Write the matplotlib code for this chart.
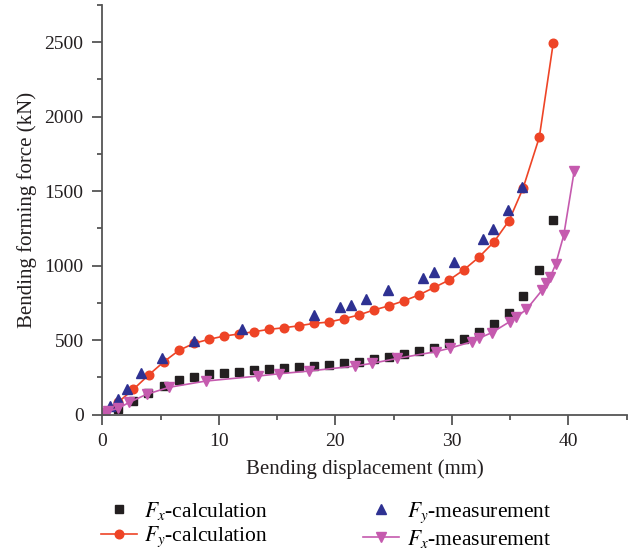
import matplotlib
matplotlib.use("Agg")
import matplotlib.pyplot as plt
from matplotlib.ticker import MultipleLocator

plt.rcParams['font.family'] = ['Liberation Serif', 'DejaVu Serif']
plt.rcParams['mathtext.fontset'] = 'stix'

# Fx-calculation (black squares)
fx_calc_x = [0.1, 1.37, 2.66, 3.95, 5.29, 6.58, 7.86, 9.15, 10.44, 11.72, 13.0, 14.3,
             15.6, 16.9, 18.15, 19.44, 20.7, 22.0, 23.3, 24.6, 25.9, 27.2, 28.5, 29.76,
             31.0, 32.3, 33.6, 34.9, 36.1, 37.5, 38.7]
fx_calc_y = [10, 40, 92, 144, 195, 231, 253, 271, 280, 289, 298, 305,
             311, 320, 329, 336, 345, 356, 372, 387, 405, 428, 450, 479,
             508, 555, 607, 680, 794, 971, 1305]

# Fy-calculation (red line + circles)
fy_calc_x = [0.1, 1.37, 2.66, 4.0, 5.29, 6.58, 7.86, 9.15, 10.44, 11.72, 13.0, 14.3,
             15.6, 16.87, 18.15, 19.44, 20.7, 22.0, 23.3, 24.6, 25.9, 27.2, 28.5, 29.76,
             31.0, 32.3, 33.6, 34.9, 36.1, 37.5, 38.7]
fy_calc_y = [15, 85, 170, 268, 356, 432, 479, 506, 528, 542, 557, 573,
             584, 597, 613, 622, 644, 669, 703, 731, 765, 805, 855, 904,
             971, 1056, 1159, 1302, 1519, 1862, 2497]

# Fy-measurement (blue triangles)
fy_meas_x = [0.25, 0.7, 1.35, 2.09, 3.29, 5.15, 7.86, 12.0, 18.15, 20.4, 21.3, 22.6,
             24.55, 27.5, 28.5, 30.2, 32.7, 33.5, 34.8, 36.05]
fy_meas_y = [20, 59, 103, 171, 278, 383, 495, 573, 669, 721, 734, 777,
             840, 919, 956, 1027, 1179, 1248, 1376, 1526]

# Fx-measurement (magenta line + down triangles)
fx_meas_x = [0.2, 0.52, 1.37, 2.31, 3.8, 5.72, 8.87, 13.4, 15.15, 17.7, 21.7, 23.15,
             25.3, 28.6, 29.8, 31.7, 32.3, 33.4, 34.95, 35.5, 36.4, 37.75, 38.1, 38.45,
             38.9, 39.6, 40.5]
fx_meas_y = [10, 25, 43, 83, 137, 184, 226, 260, 275, 293, 327, 345,
             378, 423, 446, 490, 513, 550, 624, 654, 707, 837, 882, 926,
             1009, 1206, 1638]

red = '#EE4426'
blue = '#2E3192'
mag = '#C55AAE'
blk = '#231F20'

fig = plt.figure(figsize=(6.38, 5.53), dpi=100)
ax = fig.add_axes([0.1603, 0.250, 0.8220, 0.741])

ax.plot(fx_calc_x, fx_calc_y, ls='none', marker='s', ms=5.2, color=blk, label='$F_x$-calculation')
ax.plot(fy_calc_x, fy_calc_y, ls='-', lw=1.2, marker='o', ms=6.2, color=red, label='$F_y$-calculation')
ax.plot(fy_meas_x, fy_meas_y, ls='none', marker='^', ms=7, color=blue, label='$F_y$-measurement')
ax.plot(fx_meas_x, fx_meas_y, ls='-', lw=1.2, marker='v', ms=7, color=mag, label='$F_x$-measurement')

ax.set_xlim(0, 45)
ax.set_ylim(0, 2750)
ax.xaxis.set_major_locator(MultipleLocator(10))
ax.xaxis.set_minor_locator(MultipleLocator(5))
ax.yaxis.set_major_locator(MultipleLocator(500))
ax.yaxis.set_minor_locator(MultipleLocator(250))

for s in ['top', 'right']:
    ax.spines[s].set_visible(False)
for s in ['left', 'bottom']:
    ax.spines[s].set_color('#555555')
    ax.spines[s].set_linewidth(1.3)

ax.tick_params(which='major', direction='out', length=7.5, width=1.3, color='#555555',
               labelsize=14, labelcolor=blk, pad=6)
ax.tick_params(which='minor', direction='out', length=3.8, width=1.3, color='#555555')

ax.set_xlabel('Bending displacement (mm)', fontsize=15, color=blk, labelpad=6)
ax.set_ylabel('Bending forming force (kN)', fontsize=15, color=blk, labelpad=5)

fig.legend(loc='upper left', bbox_to_anchor=(101 / 638, 1 - 500 / 553), ncol=2,
           frameon=False, fontsize=15.5, handlelength=1.67, handletextpad=0.35,
           columnspacing=4.4, labelspacing=0.12, borderpad=0, borderaxespad=0)

fig.savefig('out.png', dpi=100)
